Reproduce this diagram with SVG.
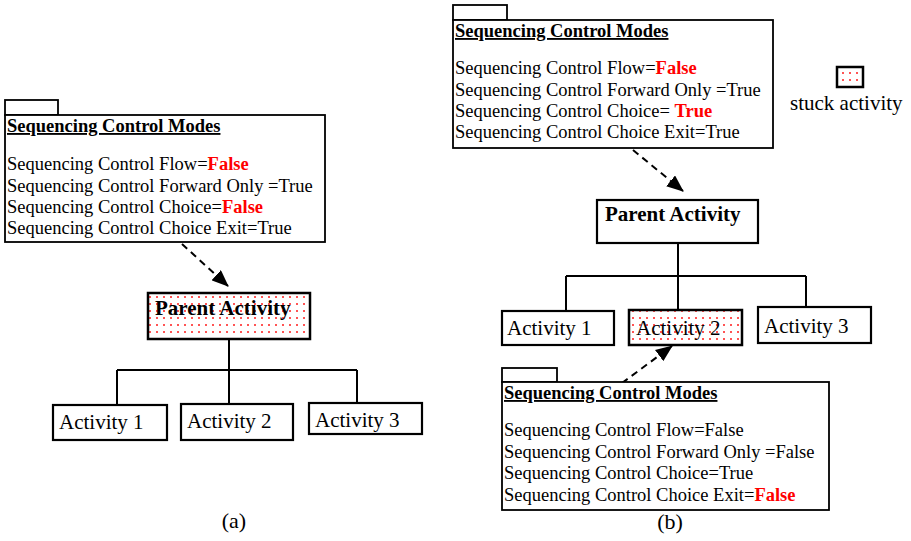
<svg xmlns="http://www.w3.org/2000/svg" width="911" height="541" viewBox="0 0 911 541">
  <defs>
    <style>
      text { font-family: "Liberation Serif", "Times New Roman", serif; fill: #000; }
      .t { font-size: 18.5px; }
      .h { font-size: 18.5px; font-weight: bold; text-decoration: underline; }
      .r { fill: #ff0000; font-weight: bold; }
      .act { font-size: 21px; }
      .cap { font-size: 22px; }
      .pa { font-size: 21px; font-weight: bold; }
      .box { fill: #fff; stroke: #000; stroke-width: 1.8; }
      .node { fill: #fff; stroke: #000; stroke-width: 2.2; }
      .stuck { fill: url(#dots); stroke: #000; stroke-width: 2.5; }
      .tree { fill: none; stroke: #000; stroke-width: 2; }
      .dash { fill: none; stroke: #000; stroke-width: 2; stroke-dasharray: 7 5; }
    </style>
    <pattern id="dots" width="14" height="7" patternUnits="userSpaceOnUse">
      <rect width="14" height="7" fill="#fff"/>
      <circle cx="3" cy="3" r="1" fill="#ff1a1a"/>
      <circle cx="10" cy="3" r="1" fill="#ff1a1a"/>
    </pattern>
    <marker id="arrow" markerWidth="17" markerHeight="14" refX="16" refY="7" orient="auto" markerUnits="userSpaceOnUse">
      <path d="M0,0 L17,7 L0,14 z" fill="#000"/>
    </marker>
  </defs>

  <!-- connectors -->
  <g id="connectors">
    <!-- (a) -->
    <path class="dash" d="M182,244 L228,286" marker-end="url(#arrow)"/>
    <path class="tree" d="M229,339 V370 M117,370 H357 M117,370 V405 M229,370 V404 M357,370 V403"/>
    <!-- (b) -->
    <path class="dash" d="M633,150 L683,191" marker-end="url(#arrow)"/>
    <path class="tree" d="M678,243 V276 M566,276 H806 M566,276 V311 M678,276 V310 M806,276 V307"/>
    <path class="dash" d="M622,383 L672,346" marker-end="url(#arrow)"/>
  </g>

  <!-- (a) mode settings -->
  <g id="modes-a">
    <rect class="box" x="5" y="100" width="53" height="15"/>
    <rect class="box" x="5" y="115" width="320" height="127"/>
    <text class="h" x="7" y="132">Sequencing Control Modes</text>
    <text class="t" x="7" y="170">Sequencing Control Flow=<tspan class="r">False</tspan></text>
    <text class="t" x="7" y="192">Sequencing Control Forward Only =True</text>
    <text class="t" x="7" y="213">Sequencing Control Choice=<tspan class="r">False</tspan></text>
    <text class="t" x="7" y="234">Sequencing Control Choice Exit=True</text>
  </g>

  <g id="parent-a">
    <rect class="stuck" x="148" y="293" width="162" height="46"/>
    <text class="pa" x="155" y="315">Parent Activity</text>
  </g>
  <g id="act1-a">
    <rect class="node" x="53" y="405" width="114" height="35"/>
    <text class="act" x="59" y="429">Activity 1</text>
  </g>
  <g id="act2-a">
    <rect class="node" x="181" y="404" width="112" height="36"/>
    <text class="act" x="187" y="428">Activity 2</text>
  </g>
  <g id="act3-a">
    <rect class="node" x="309" y="403" width="113" height="31"/>
    <text class="act" x="315" y="427">Activity 3</text>
  </g>
  <text class="cap" x="234" y="528" text-anchor="middle">(a)</text>

  <!-- (b) mode settings, parent -->
  <g id="modes-b1">
    <rect class="box" x="453" y="5" width="54" height="15"/>
    <rect class="box" x="453" y="20" width="320" height="128"/>
    <text class="h" x="455" y="37">Sequencing Control Modes</text>
    <text class="t" x="455" y="74">Sequencing Control Flow=<tspan class="r">False</tspan></text>
    <text class="t" x="455" y="96">Sequencing Control Forward Only =True</text>
    <text class="t" x="455" y="117">Sequencing Control Choice= <tspan class="r">True</tspan></text>
    <text class="t" x="455" y="138">Sequencing Control Choice Exit=True</text>
  </g>

  <g id="legend">
    <rect class="stuck" x="837" y="67" width="26" height="20"/>
    <text class="act" x="790" y="110">stuck activity</text>
  </g>

  <g id="parent-b">
    <rect class="node" x="597" y="200" width="161" height="43"/>
    <text class="pa" x="605" y="221">Parent Activity</text>
  </g>
  <g id="act1-b">
    <rect class="node" x="502" y="311" width="112" height="34"/>
    <text class="act" x="507" y="335">Activity 1</text>
  </g>
  <g id="act2-b">
    <rect class="stuck" x="629" y="310" width="113" height="35"/>
    <text class="act" x="636" y="335">Activity 2</text>
  </g>
  <g id="act3-b">
    <rect class="node" x="758" y="307" width="113" height="36"/>
    <text class="act" x="764" y="333">Activity 3</text>
  </g>

  <!-- (b) mode settings, child -->
  <g id="modes-b2">
    <rect class="box" x="502" y="368" width="55" height="14"/>
    <rect class="box" x="502" y="382" width="327" height="128"/>
    <text class="h" x="504" y="399">Sequencing Control Modes</text>
    <text class="t" x="504" y="436">Sequencing Control Flow=False</text>
    <text class="t" x="504" y="458">Sequencing Control Forward Only =False</text>
    <text class="t" x="504" y="479">Sequencing Control Choice=True</text>
    <text class="t" x="504" y="501">Sequencing Control Choice Exit=<tspan class="r">False</tspan></text>
  </g>
  <text class="cap" x="670" y="529" text-anchor="middle">(b)</text>
</svg>
